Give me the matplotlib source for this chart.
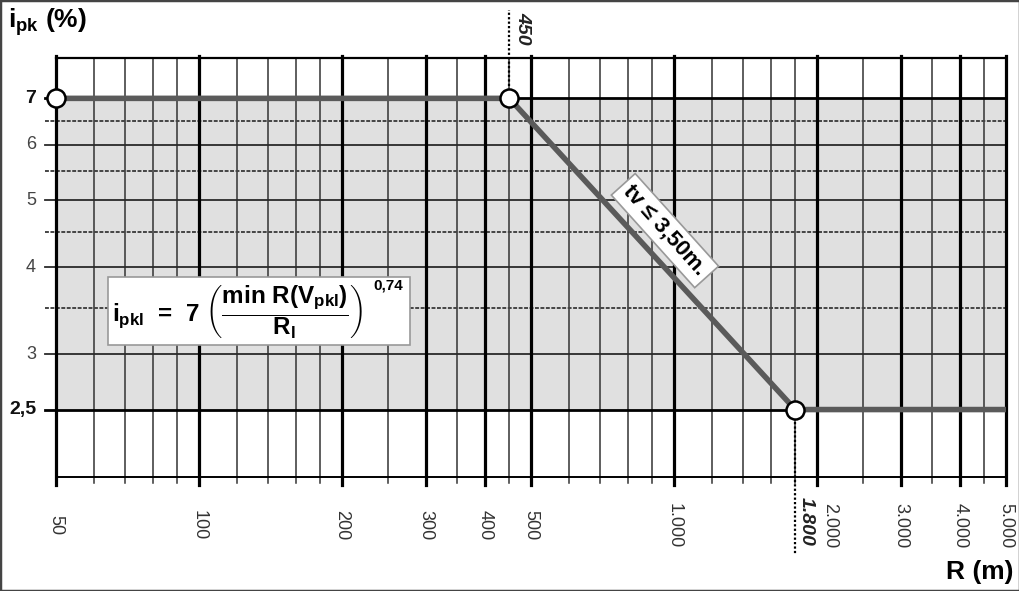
import matplotlib
matplotlib.use("Agg")
import matplotlib.pyplot as plt
import matplotlib.transforms as mtransforms
from matplotlib.patches import Rectangle

plt.rcParams['font.family'] = ['Liberation Sans', 'DejaVu Sans']
plt.rcParams['mathtext.fontset'] = 'custom'
plt.rcParams['mathtext.rm'] = 'Liberation Sans'
plt.rcParams['mathtext.bf'] = 'Liberation Sans:bold'
plt.rcParams['mathtext.it'] = 'Liberation Sans:italic'

# Data
radius = [50, 450, 1800, 5000]        # R (m)
slope = [7, 7, 2.5, 2.5]              # i_pk (%)
knots_r = [50, 450, 1800]
knots_i = [7, 7, 2.5]

x_major = [50, 100, 200, 300, 400, 500, 1000, 2000, 3000, 4000, 5000]
x_labels = ['50', '100', '200', '300', '400', '500', '1.000', '2.000', '3.000', '4.000', '5.000']
x_minor = [60, 70, 80, 90, 120, 140, 160, 180, 250, 350, 450, 600, 700, 800, 900,
           1200, 1400, 1600, 1800, 2500, 3500, 4500]
y_ticks = [3, 4, 5, 6]
y_half = [3.5, 4.5, 5.5, 6.5]
y_bold = [2.5, 7]
y_labels = {7: '7', 6: '6', 5: '5', 4: '4', 3: '3', 2.5: '2,5'}

fig = plt.figure(figsize=(10.2, 5.91), dpi=100)
ax = fig.add_axes([56 / 1020, 114 / 591, 950 / 1020, 419 / 591])
ax.set_xscale('log')
ax.set_yscale('log')
ax.set_xlim(50, 5000)
ax.set_ylim(2.0, 8.0)
ax.set_xticks([])
ax.set_yticks([])
ax.minorticks_off()
for s in ax.spines.values():
    s.set_visible(False)

# shaded band
ax.axhspan(2.5, 7, color='#e0e0e0', zorder=0)

bx = mtransforms.blended_transform_factory(ax.transData, ax.transAxes)
by = mtransforms.blended_transform_factory(ax.transAxes, ax.transData)

# vertical grid (lines run a little below the frame, like ticks)
for x in x_minor:
    ax.plot([x, x], [-0.015, 1.0], transform=bx, color='#333333', lw=1.1,
            clip_on=False, zorder=1)
for x in x_major:
    ax.plot([x, x], [-0.02, 1.005], transform=bx, color='black', lw=2.3,
            clip_on=False, zorder=2)

# horizontal grid
for y in y_half:
    ax.plot([-0.012, 1], [y, y], transform=by, color='#444444', lw=1.4,
            ls=(0, (2, 0.8)), clip_on=False, zorder=1)
for y in y_ticks:
    ax.plot([-0.012, 1], [y, y], transform=by, color='#2a2a2a', lw=1.3,
            clip_on=False, zorder=1)
for y in y_bold:
    ax.plot([-0.012, 1], [y, y], transform=by, color='black', lw=2.0,
            clip_on=False, zorder=2)
ax.plot([0, 1], [8, 8], transform=by, color='black', lw=1.6, clip_on=False, zorder=2)
ax.plot([0, 1], [2, 2], transform=by, color='black', lw=1.4, clip_on=False, zorder=2)

# curve
ax.plot(radius, slope, color='#5a5a5a', lw=4.0, solid_capstyle='butt', zorder=4)
ax.plot(knots_r, knots_i, ls='none', marker='o', ms=13, mfc='white',
        mec='black', mew=1.8, zorder=6, clip_on=False)

# reference dotted lines
to_axes = ax.transAxes.inverted()
y450 = to_axes.transform(ax.transData.transform((knots_r[1], knots_i[1])))[1]
y1800 = to_axes.transform(ax.transData.transform((knots_r[2], knots_i[2])))[1]
ax.plot([knots_r[1], knots_r[1]], [y450 + 0.03, 1.115], transform=bx, color='black',
        lw=1.6, ls=(0, (1, 1)), clip_on=False, zorder=3)
ax.plot([knots_r[2], knots_r[2]], [y1800 - 0.03, -0.186], transform=bx, color='black',
        lw=1.6, ls=(0, (1, 1)), clip_on=False, zorder=3)
ax.annotate('450', xy=(knots_r[1], 1.070), xycoords=bx, xytext=(10, 0),
            textcoords='offset points', rotation=-90, ha='center', va='center',
            fontsize=14, fontweight='bold', fontstyle='italic', color='#222222')
ax.annotate('1.800', xy=(knots_r[2], -0.107), xycoords=bx, xytext=(8, 0),
            textcoords='offset points', rotation=-90, ha='center', va='center',
            fontsize=14, fontweight='bold', fontstyle='italic', color='#222222')

# tick labels (2.000 nudged right to clear the 1.800 mark)
for x, lab in zip(x_major, x_labels):
    dx = 9 if lab == '2.000' else 0
    ax.annotate(lab, xy=(x, -0.115), xycoords=bx, xytext=(dx, 0),
                textcoords='offset points', rotation=-90, ha='center', va='center',
                fontsize=13, color='#333333')
for y, lab in y_labels.items():
    bold = y in y_bold
    ax.text(-0.021, y, lab, transform=by, ha='right', va='center',
            fontsize=14 if bold else 13,
            fontweight='bold' if bold else 'normal',
            color='#111111' if bold else '#444444')

# axis titles
fig.text(8 / 1020, 1 - 22 / 591, r'$\mathbf{i_{pk}}$ (%)', fontsize=19,
         fontweight='bold', ha='left', va='center')
fig.text(1014 / 1020, 1 - 572 / 591, 'R (m)', fontsize=19, fontweight='bold',
         ha='right', va='center')

# formula box
ax.add_patch(Rectangle((0.0547, 0.315), 0.318, 0.162, transform=ax.transAxes,
                       fc='white', ec='#999999', lw=1.2, zorder=7))
ax.text(0.059, 0.393,
        r'$\mathbf{i_{pkl}}$  =  7 $\left(\dfrac{\mathbf{min\ R(V_{pkl})}}{\mathbf{R_l}}\right)$',
        transform=ax.transAxes, ha='left', va='center', fontsize=17.5,
        fontweight='bold', zorder=8)
ax.text(0.334, 0.458, '0,74', transform=ax.transAxes, ha='left', va='center',
        fontsize=11, fontweight='bold', zorder=8)

# tv label
ax.text(0.641, 0.588, 'tv ≤ 3,50m.', transform=ax.transAxes, rotation=-48,
        ha='center', va='center', fontsize=16, fontweight='bold', zorder=7,
        rotation_mode='anchor',
        bbox=dict(boxstyle='square,pad=0.25', fc='white', ec='#999999', lw=1.2))

fig.patches.append(Rectangle((0, 0), 1, 1, transform=fig.transFigure, fill=False,
                             ec='#444444', lw=2.5))

fig.savefig('out.png', dpi=100)
